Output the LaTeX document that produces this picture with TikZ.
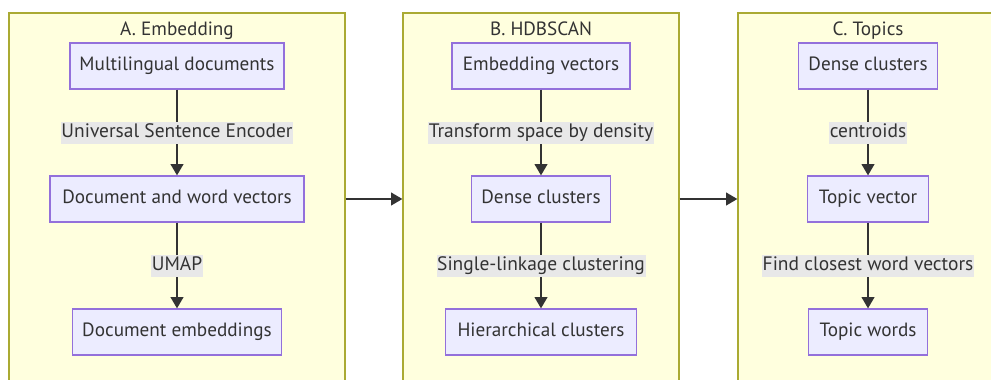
\documentclass[tikz,border=0pt]{standalone}
\usepackage{fontspec}
\setmainfont{PT Sans}
\usetikzlibrary{arrows.meta}
\definecolor{clfill}{HTML}{FFFFDE}
\definecolor{cldraw}{HTML}{AAAA33}
\definecolor{ndfill}{HTML}{ECECFF}
\definecolor{nddraw}{HTML}{9370DB}
\definecolor{txt}{HTML}{333333}
\definecolor{lblbg}{HTML}{E8E8E8}
\definecolor{edgecol}{HTML}{333333}
\tikzset{
  cluster/.style={draw=cldraw, fill=clfill, line width=0.9pt, minimum height=279pt, inner sep=0pt},
  ctitle/.style={text=txt, font=\fontsize{14.4}{16}\selectfont, inner sep=0pt, text height=10pt, text depth=3pt},
  proc/.style={draw=nddraw, fill=ndfill, line width=0.9pt, minimum height=34.5pt, text=txt, font=\fontsize{14.4}{16}\selectfont, inner sep=0pt, text height=10pt, text depth=3pt},
  lbl/.style={fill=lblbg, text=txt, font=\fontsize{14.6}{16}\selectfont, inner xsep=0.5pt, inner ysep=1.75pt, text height=10pt, text depth=3pt},
  edge/.style={draw=edgecol, line width=1.5pt, -{Triangle[length=8.5pt,width=9.5pt]}},
}
\begin{document}
\begin{tikzpicture}[x=0.75pt,y=-0.75pt]
\useasboundingbox (0,0) rectangle (991,379);
\clip (0,0) rectangle (991,379);
\fill[white] (0,0) rectangle (991,379);
% clusters
\node[cluster, minimum width=252pt] (A) at (177,199) {};
\node[cluster, minimum width=207pt] (B) at (541,199) {};
\node[cluster, minimum width=195pt] (C) at (868,199) {};
\node[ctitle] (tA) at (177,31) {A. Embedding};
\node[ctitle] (tB) at (541,31) {B. HDBSCAN};
\node[ctitle] (tC) at (868,31) {C. Topics};
% A
\node[proc, minimum width=160.5pt] (A1) at (177,66) {Multilingual documents};
\node[proc, minimum width=190.5pt] (A2) at (177,199) {Document and word vectors};
\node[proc, minimum width=156.75pt] (A3) at (177,332) {Document embeddings};
% B
\node[proc, minimum width=133.5pt] (B1) at (541,66) {Embedding vectors};
\node[proc, minimum width=104.25pt] (B2) at (541,199) {Dense clusters};
\node[proc, minimum width=143.25pt] (B3) at (541,332) {Hierarchical clusters};
% C
\node[proc, minimum width=104.25pt] (C1) at (868,66) {Dense clusters};
\node[proc, minimum width=90.75pt] (C2) at (868,199) {Topic vector};
\node[proc, minimum width=89.25pt] (C3) at (868,332) {Topic words};
% edges
\draw[edge] (A1) -- node[lbl] (lA1) {Universal Sentence Encoder} (A2);
\draw[edge] (A2) -- node[lbl] (lA2) {UMAP} (A3);
\draw[edge] (B1) -- node[lbl] (lB1) {Transform space by density} (B2);
\draw[edge] (B2) -- node[lbl] (lB2) {Single-linkage clustering} (B3);
\draw[edge] (C1) -- node[lbl] (lC1) {centroids} (C2);
\draw[edge] (C2) -- node[lbl] (lC2) {Find closest word vectors} (C3);
\draw[edge] (A) -- (B);
\draw[edge] (B) -- (C);
\end{tikzpicture}
\end{document}
